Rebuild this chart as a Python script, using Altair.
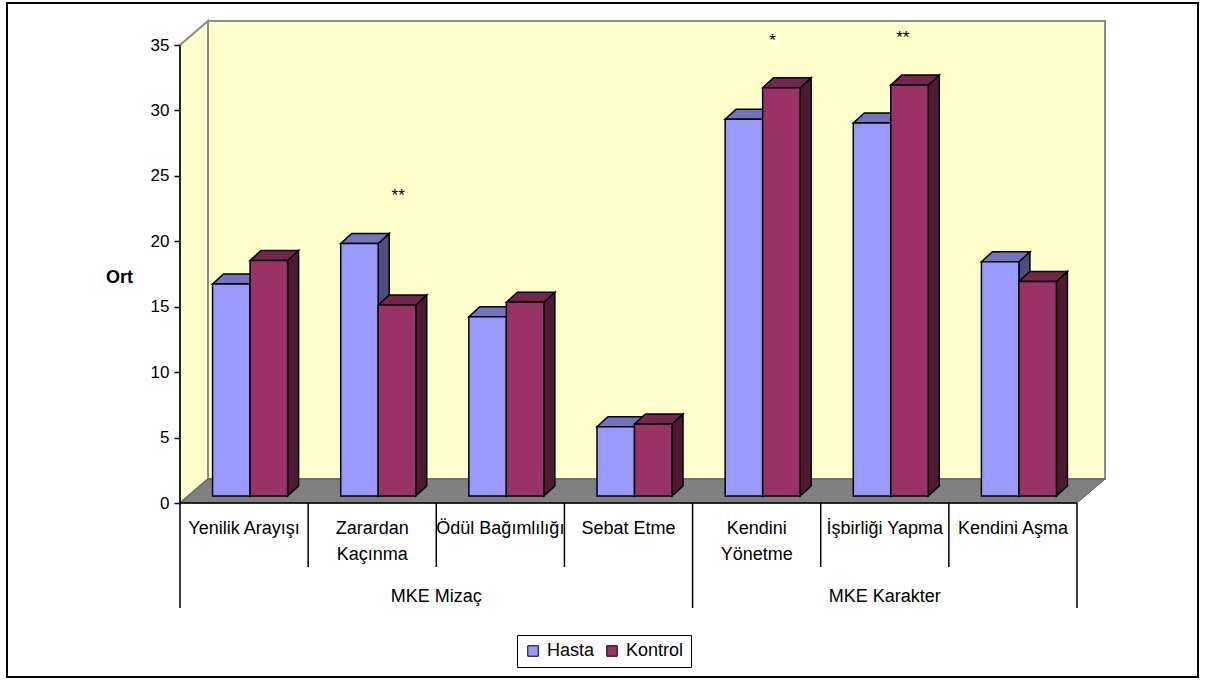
import altair as alt
import pandas as pd

# ---------------- data ----------------
categories = ["Yenilik Arayışı", "Zarardan\nKaçınma", "Ödül Bağımlılığı", "Sebat Etme",
              "Kendini\nYönetme", "İşbirliği Yapma", "Kendini Aşma"]
groups = ["MKE Mizaç", "MKE Karakter"]
group_sizes = [4, 3]
series = ["Hasta", "Kontrol"]
hasta = [16.2, 19.3, 13.7, 5.3, 28.8, 28.5, 17.9]
kontrol = [18.0, 14.6, 14.8, 5.5, 31.2, 31.4, 16.4]
y_ticks = [0, 5, 10, 15, 20, 25, 30, 35]
y_max = 35
star_labels = ["**", "*", "**"]
star_categories = [1, 4, 5]

# ---------------- layout / style ----------------
FONT = "Liberation Sans"
PLOT_W, PLOT_H = 1191, 674          # framed area
AX_LEFT = 173                        # px from frame left to the y axis
ZERO_TOP = 500                       # px from frame top to y = 0
FRONT_W = 897                        # px width of the category band
PX_X = FRONT_W / len(categories)     # px per category
PX_Y = 458 / y_max                   # px per y unit


def ux(p):
    return p / PX_X


def uy(p):
    return p / PX_Y


WALL_DX, WALL_DY = ux(28), uy(24)     # depth of the box
BAR_SHIFT_X, BAR_BASE = ux(6), uy(7)  # bar plane inside the box
BAR_W = ux(37.5)
BAR_DX, BAR_DY = ux(11), uy(10)       # depth of a bar
STAR_SHIFT = [ux(20), ux(10), ux(12)]
STAR_GAP = 3.6

front_col = {"Hasta": "#9999FF", "Kontrol": "#993366"}
top_col = {"Hasta": "#7373BF", "Kontrol": "#73264D"}
side_col = {"Hasta": "#4D4D80", "Kontrol": "#4D1A33"}

x_dom = [-ux(AX_LEFT), ux(PLOT_W - AX_LEFT)]
y_dom = [-uy(PLOT_H - ZERO_TOP), uy(ZERO_TOP)]
xs = alt.Scale(domain=x_dom, nice=False, zero=False)
ys = alt.Scale(domain=y_dom, nice=False, zero=False)

y_axis = alt.Axis(values=y_ticks, offset=-AX_LEFT, domain=False, grid=False,
                  ticks=True, tickColor="black", tickSize=6, tickWidth=1.5,
                  labelFont=FONT, labelFontSize=17, labelColor="black", labelPadding=5,
                  title="Ort", titleAngle=0, titleFont=FONT, titleFontSize=18,
                  titleFontWeight="bold", titleColor="black", titleAlign="center",
                  titleBaseline="middle", titleX=-61, titleY=274)


def X(f="x"):
    return alt.X(f"{f}:Q", scale=xs, axis=None)


def Y(f="y"):
    return alt.Y(f"{f}:Q", scale=ys, axis=y_axis)


n = len(categories)

# ---------------- walls and floor ----------------
left_wall = pd.DataFrame({"x": [0, WALL_DX], "y": [0, WALL_DY], "y2": [y_max, y_max + WALL_DY]})
back_wall = pd.DataFrame({"x": [WALL_DX], "x2": [n + WALL_DX], "y": [WALL_DY], "y2": [y_max + WALL_DY]})
floor = pd.DataFrame({"x": [0, WALL_DX, n, n + WALL_DX],
                      "y": [0, 0, 0, WALL_DY], "y2": [0, WALL_DY, WALL_DY, WALL_DY]})

wall_style = dict(fill="#FFFFCC", stroke="#8C8C8C", strokeWidth=2)
l_left = alt.Chart(left_wall).mark_area(orient="vertical", **wall_style).encode(
    x=X(), y=Y(), y2="y2:Q")
l_back = alt.Chart(back_wall).mark_rect(**wall_style).encode(
    x=X(), x2="x2:Q", y=Y(), y2="y2:Q")
l_floor = alt.Chart(floor).mark_area(orient="vertical", fill="#808080", stroke="#5A5A5A",
                                     strokeWidth=1).encode(x=X(), y=Y(), y2="y2:Q")

# ---------------- bars ----------------
fronts, sides, tops = [], [], []
for i in range(n):
    c = i + 0.5 + BAR_SHIFT_X
    for s, vals in zip(series, [hasta, kontrol]):
        v = vals[i]
        xl = c - BAR_W if s == "Hasta" else c
        xr = xl + BAR_W
        base, top = BAR_BASE, BAR_BASE + v
        bid = f"{i}-{s}"
        fronts.append({"x": xl, "x2": xr, "y": base, "y2": top, "series": s})
        sides.append({"id": bid, "x": xr, "y": base, "y2": top, "col": side_col[s]})
        sides.append({"id": bid, "x": xr + BAR_DX, "y": base + BAR_DY, "y2": top + BAR_DY, "col": side_col[s]})
        for px, a, b in [(xl, top, top), (xl + BAR_DX, top, top + BAR_DY),
                         (xr, top, top + BAR_DY), (xr + BAR_DX, top + BAR_DY, top + BAR_DY)]:
            tops.append({"id": bid, "x": px, "y": a, "y2": b, "col": top_col[s]})

l_sides = alt.Chart(pd.DataFrame(sides)).mark_area(orient="vertical", stroke="black", strokeWidth=1.5).encode(
    x=X(), y=Y(), y2="y2:Q", detail="id:N", color=alt.Color("col:N", scale=None))
l_tops = alt.Chart(pd.DataFrame(tops)).mark_area(orient="vertical", stroke="black", strokeWidth=1.5).encode(
    x=X(), y=Y(), y2="y2:Q", detail="id:N", color=alt.Color("col:N", scale=None))
l_fronts = alt.Chart(pd.DataFrame(fronts)).mark_rect(stroke="black", strokeWidth=1.5).encode(
    x=X(), x2="x2:Q", y=Y(), y2="y2:Q",
    color=alt.Color("series:N", scale=alt.Scale(domain=series, range=[front_col[s] for s in series]),
                    legend=alt.Legend(title=None, orient="none", legendX=510, legendY=632,
                                      direction="horizontal", strokeColor="black", padding=7,
                                      symbolType="square", symbolSize=110, symbolStrokeColor="black",
                                      symbolStrokeWidth=1,
                                      labelFont=FONT, labelFontSize=18, labelColor="black",
                                      columnPadding=8, labelOffset=5)))

# ---------------- axis lines and category table ----------------
inner_bottom = -uy(64)
outer_bottom = -uy(105)
group_edges = [0]
for g in group_sizes:
    group_edges.append(group_edges[-1] + g)
rules = [{"x": 0, "x2": 0, "y": 0, "y2": y_max},
         {"x": 0, "x2": n, "y": 0, "y2": 0}]
for k in range(n + 1):
    bottom = outer_bottom if k in group_edges else inner_bottom
    rules.append({"x": k, "x2": k, "y": 0, "y2": bottom})
l_rules = alt.Chart(pd.DataFrame(rules)).mark_rule(color="black", strokeWidth=1.5).encode(
    x=X(), x2="x2:Q", y=Y(), y2="y2:Q")

cat_df = pd.DataFrame({"x": [i + 0.5 for i in range(n)], "y": [-uy(17)] * n, "label": categories})
l_cats = alt.Chart(cat_df).mark_text(font=FONT, fontSize=18, color="black", baseline="top",
                                     align="center", lineBreak="\n", lineHeight=26).encode(
    x=X(), y=Y(), text="label:N")

grp_df = pd.DataFrame({"x": [(group_edges[j] + group_edges[j + 1]) / 2 for j in range(len(groups))],
                       "y": [-uy(94)] * len(groups), "label": groups})
l_grps = alt.Chart(grp_df).mark_text(font=FONT, fontSize=18, color="black", baseline="middle",
                                     align="center").encode(x=X(), y=Y(), text="label:N")

star_df = pd.DataFrame({
    "x": [star_categories[j] + 0.5 + BAR_SHIFT_X + STAR_SHIFT[j] for j in range(len(star_labels))],
    "y": [BAR_BASE + max(hasta[c], kontrol[c]) + STAR_GAP for c in star_categories],
    "label": star_labels})
l_stars = alt.Chart(star_df).mark_text(font=FONT, fontSize=17, color="black", baseline="middle",
                                       align="center").encode(x=X(), y=Y(), text="label:N")

chart = alt.layer(
    l_left, l_back, l_floor, l_sides, l_tops, l_fronts, l_rules, l_cats, l_grps, l_stars
).resolve_scale(color="independent").properties(
    width=PLOT_W, height=PLOT_H,
    autosize=alt.AutoSizeParams(type="none"),
    padding={"left": 7, "top": 3, "right": 13, "bottom": 3},
    background="white",
).configure_view(stroke="black", strokeWidth=2)

chart.save("out.html", embed_options={"renderer": "svg", "actions": False})
